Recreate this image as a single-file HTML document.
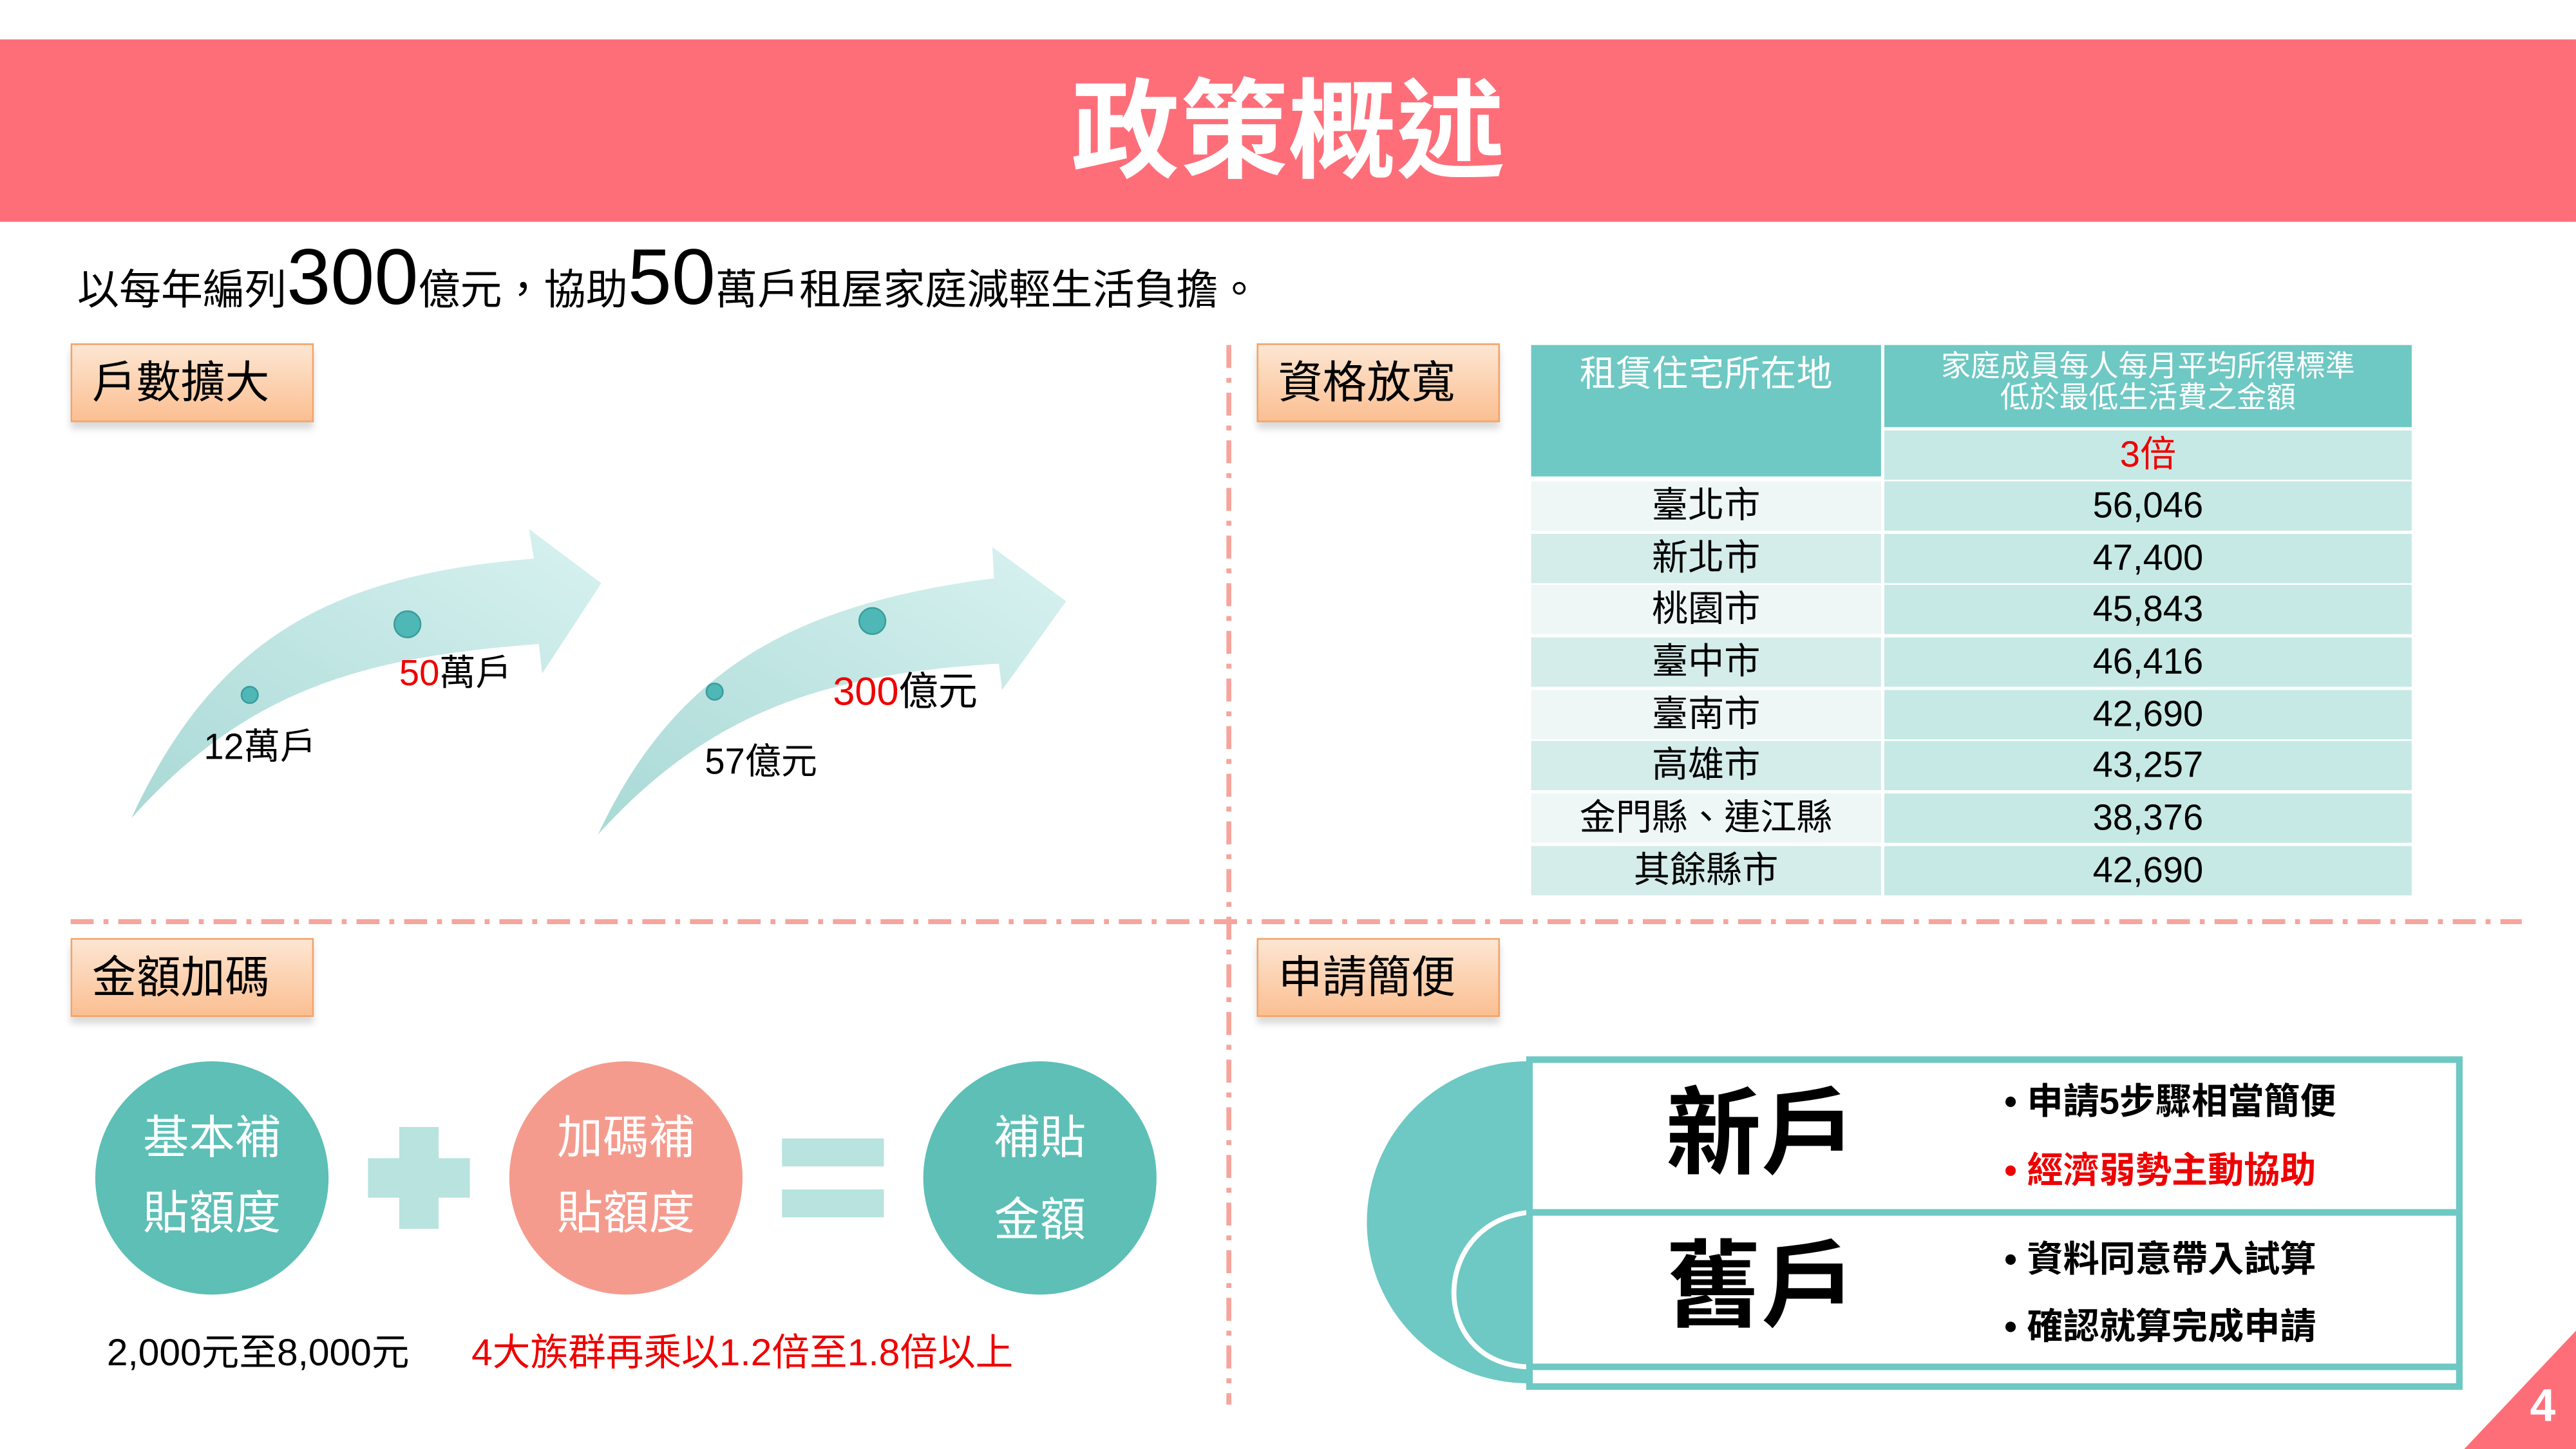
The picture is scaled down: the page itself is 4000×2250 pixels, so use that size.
<!DOCTYPE html>
<html><head><meta charset="utf-8"><style>
*{margin:0;padding:0;box-sizing:border-box}
body{width:4000px;height:2250px;overflow:hidden;background:#fff}
#s{position:absolute;left:0;top:0;width:1568px;height:882px;transform:scale(2.5510);transform-origin:0 0;font-family:"Liberation Sans","Noto Sans CJK TC",sans-serif;color:#000}
.a{position:absolute;white-space:nowrap}
.lab{position:absolute;width:148px;height:48px;background:linear-gradient(#fde6d2,#fbbf92);border:1.5px solid #f3a266;font-size:27px;line-height:46px;padding-left:12px;box-shadow:0 4px 4px rgba(0,0,0,.15)}
.c1,.c2{position:absolute;height:30px;font-size:22px;line-height:30px;text-align:center}
.c1{left:932px;width:213px}
.c2{left:1147px;width:321px;background:#c6e9e5}
.circ{position:absolute;width:142px;height:142px;border-radius:50%;color:#fff;font-size:28px;text-align:center;line-height:46px;padding-top:24px}
</style></head><body><div id="s">
<div class="a" style="left:0;top:24px;width:1568px;height:111px;background:#fe6e79"></div>
<div class="a" style="left:0;top:38px;width:1568px;text-align:center;color:#fff;font-size:66px;font-weight:bold;line-height:84px">政策概述</div>
<div class="a" style="left:47px;top:145px;font-size:25.5px;line-height:50px">以每年編列<span style="font-size:48px">300</span>億元，協助<span style="font-size:48px">50</span>萬戶租屋家庭減輕生活負擔。</div>

<div class="lab" style="left:43px;top:209px">戶數擴大</div>
<div class="lab" style="left:765px;top:209px">資格放寬</div>
<div class="lab" style="left:43px;top:571px">金額加碼</div>
<div class="lab" style="left:765px;top:571px">申請簡便</div>

<svg class="a" style="left:0;top:0" width="1568" height="882">
<line x1="748" y1="210" x2="748" y2="855" stroke="#f5a59d" stroke-width="3" stroke-dasharray="14,6,3,6"/>
<line x1="43" y1="561" x2="1535" y2="561" stroke="#f5a59d" stroke-width="3" stroke-dasharray="14,6,3,6"/>
<defs><linearGradient id="g" x1="0" y1="1" x2="1" y2="0"><stop offset="0" stop-color="#a9d9d6"/><stop offset="1" stop-color="#d8f2f0"/></linearGradient></defs>
<path d="M80,498 C130,390 200,350 325,340 L322,322 L366,355 L330,410 L328,392 C220,400 150,420 80,498Z" fill="url(#g)"/>
<path d="M364,508 C410,410 480,368 605,352 L604,333 L649,366 L610,420 L608,404 C500,410 430,435 364,508Z" fill="url(#g)"/>
<circle cx="248" cy="380" r="8" fill="#4fb8b6" stroke="#3a9d9b"/>
<circle cx="152" cy="423" r="5" fill="#4fb8b6" stroke="#3a9d9b"/>
<circle cx="531" cy="378" r="8" fill="#4fb8b6" stroke="#3a9d9b"/>
<circle cx="435" cy="421" r="5" fill="#4fb8b6" stroke="#3a9d9b"/>
<rect x="243" y="686" width="24" height="62" fill="#b8e3df"/><rect x="224" y="705" width="62" height="24" fill="#b8e3df"/>
<rect x="476" y="693" width="62" height="17" fill="#b8e3df"/><rect x="476" y="724" width="62" height="17" fill="#b8e3df"/>
<path d="M930,646 A98,98 0 0 0 930,842Z" fill="#6ec8c3"/>
<path d="M930,738 C870,745 870,830 930,832" fill="none" stroke="#fff" stroke-width="3"/>
<rect x="931" y="645" width="566" height="199" fill="none" stroke="#6ec8c3" stroke-width="4"/>
<line x1="931" y1="738" x2="1497" y2="738" stroke="#6ec8c3" stroke-width="4"/>
<line x1="931" y1="832" x2="1497" y2="832" stroke="#6ec8c3" stroke-width="4"/>
<path d="M1568,810 L1568,882 L1500,882Z" fill="#fe6e79"/>
</svg>
<div class="a" style="left:243px;top:392px;font-size:22px"><span style="color:#e00">50</span>萬戶</div>
<div class="a" style="left:124px;top:437px;font-size:22px">12萬戶</div>
<div class="a" style="left:507px;top:401px;font-size:24px"><span style="color:#e00">300</span>億元</div>
<div class="a" style="left:429px;top:446px;font-size:22px">57億元</div>

<div class="a" style="left:932px;top:210px;width:213px;height:80px;background:#6ec8c3;color:#fff;font-size:22px;text-align:center;line-height:36px">租賃住宅所在地</div>
<div class="a" style="left:1147px;top:210px;width:321px;height:50px;background:#6ec8c3;color:#fff;font-size:18px;text-align:center;line-height:19px;padding-top:4px">家庭成員每人每月平均所得標準<br>低於最低生活費之金額</div>
<div class="c2" style="top:262px;color:#e00">3倍</div>
<div class="c1" style="top:293px;background:#eef7f6">臺北市</div><div class="c2" style="top:293px">56,046</div>
<div class="c1" style="top:325px;background:#d4ecea">新北市</div><div class="c2" style="top:325px">47,400</div>
<div class="c1" style="top:356px;background:#eef7f6">桃園市</div><div class="c2" style="top:356px">45,843</div>
<div class="c1" style="top:388px;background:#d4ecea">臺中市</div><div class="c2" style="top:388px">46,416</div>
<div class="c1" style="top:420px;background:#eef7f6">臺南市</div><div class="c2" style="top:420px">42,690</div>
<div class="c1" style="top:451px;background:#d4ecea">高雄市</div><div class="c2" style="top:451px">43,257</div>
<div class="c1" style="top:483px;background:#eef7f6">金門縣、連江縣</div><div class="c2" style="top:483px">38,376</div>
<div class="c1" style="top:515px;background:#d4ecea">其餘縣市</div><div class="c2" style="top:515px">42,690</div>

<div class="circ" style="left:58px;top:646px;background:#5dbfb6">基本補<br>貼額度</div>
<div class="circ" style="left:310px;top:646px;background:#f59b8e">加碼補<br>貼額度</div>
<div class="circ" style="left:562px;top:646px;background:#5dbfb6;padding-top:22px;line-height:50px">補貼<br>金額</div>
<div class="a" style="left:65px;top:804px;font-size:23px">2,000元至8,000元</div>
<div class="a" style="left:287px;top:804px;font-size:23px;color:#e00">4大族群再乘以1.2倍至1.8倍以上</div>

<div class="a" style="left:1014px;top:655px;font-size:58px;font-weight:bold;line-height:72px">新戶</div>
<div class="a" style="left:1014px;top:748px;font-size:58px;font-weight:bold;line-height:72px">舊戶</div>
<div class="a" style="left:1220px;top:656px;font-size:22px;font-weight:bold;line-height:30px">• 申請5步驟相當簡便</div>
<div class="a" style="left:1220px;top:698px;font-size:22px;font-weight:bold;line-height:30px;color:#e00">• 經濟弱勢主動協助</div>
<div class="a" style="left:1220px;top:752px;font-size:22px;font-weight:bold;line-height:30px">• 資料同意帶入試算</div>
<div class="a" style="left:1220px;top:793px;font-size:22px;font-weight:bold;line-height:30px">• 確認就算完成申請</div>
<div class="a" style="left:1540px;top:840px;font-size:28px;font-weight:bold;color:#fff">4</div>
</div></body></html>
